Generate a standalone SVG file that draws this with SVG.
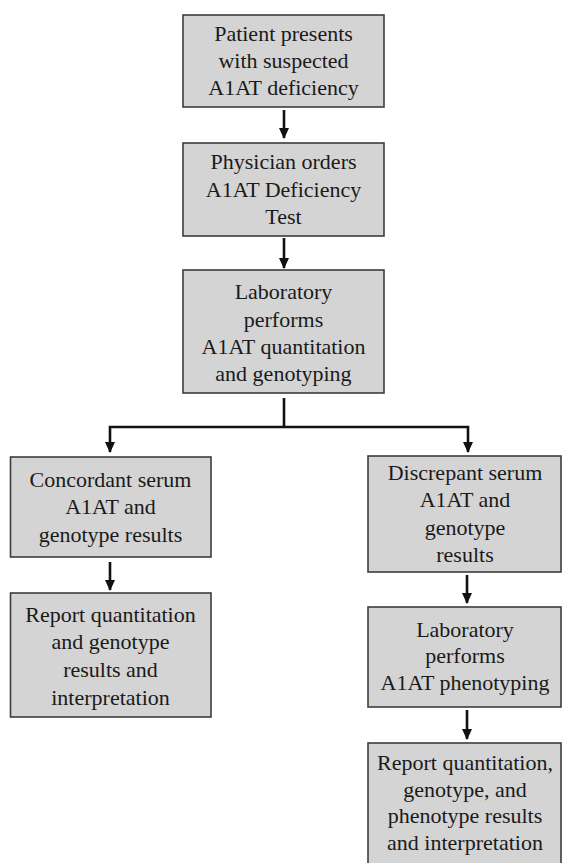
<svg xmlns="http://www.w3.org/2000/svg" width="562" height="863" viewBox="0 0 562 863">
<defs>
<marker id="ah" markerUnits="userSpaceOnUse" markerWidth="11" markerHeight="10" refX="10" refY="5" orient="auto-start-reverse" viewBox="0 0 11 10">
<path d="M0,0 L11,5 L0,10 Z" fill="#111"/>
</marker>
<style>
.box{fill:#d4d4d4;stroke:#3c3c3c;stroke-width:1.6}
.t{font-size:22px;fill:#1a1a1a;text-anchor:middle}
.c{stroke:#111;stroke-width:2.6;fill:none}
</style>
</defs>
<rect width="562" height="863" fill="#fff"/>
<g font-family="'Liberation Serif', 'Times New Roman', 'DejaVu Serif', serif">
<g id="n1"><rect class="box" x="183" y="15" width="201" height="92"/>
<text class="t" x="283.5" y="41">Patient presents</text>
<text class="t" x="283.5" y="68">with suspected</text>
<text class="t" x="283.5" y="95">A1AT deficiency</text></g>
<g id="n2"><rect class="box" x="183" y="143" width="201" height="93"/>
<text class="t" x="283.5" y="169">Physician orders</text>
<text class="t" x="283.5" y="197">A1AT Deficiency</text>
<text class="t" x="283.5" y="224">Test</text></g>
<g id="n3"><rect class="box" x="183" y="270" width="201" height="123"/>
<text class="t" x="283.5" y="299">Laboratory</text>
<text class="t" x="283.5" y="327">performs</text>
<text class="t" x="283.5" y="354">A1AT quantitation</text>
<text class="t" x="283.5" y="381">and genotyping</text></g>
<g id="n4"><rect class="box" x="10.5" y="457" width="200.5" height="100"/>
<text class="t" x="110.5" y="487">Concordant serum</text>
<text class="t" x="110.5" y="514">A1AT and</text>
<text class="t" x="110.5" y="542">genotype results</text></g>
<g id="n5"><rect class="box" x="10.5" y="593" width="200.5" height="124"/>
<text class="t" x="110.5" y="622">Report quantitation</text>
<text class="t" x="110.5" y="649">and genotype</text>
<text class="t" x="110.5" y="677">results and</text>
<text class="t" x="110.5" y="705">interpretation</text></g>
<g id="n6"><rect class="box" x="368" y="456" width="193" height="116"/>
<text class="t" x="465" y="480">Discrepant serum</text>
<text class="t" x="465" y="507">A1AT and</text>
<text class="t" x="465" y="535">genotype</text>
<text class="t" x="465" y="562">results</text></g>
<g id="n7"><rect class="box" x="368" y="607" width="193" height="100"/>
<text class="t" x="465" y="637">Laboratory</text>
<text class="t" x="465" y="663">performs</text>
<text class="t" x="465" y="690">A1AT phenotyping</text></g>
<g id="n8"><rect class="box" x="368" y="743" width="193" height="125"/>
<text class="t" x="465" y="770">Report quantitation,</text>
<text class="t" x="465" y="797">genotype, and</text>
<text class="t" x="465" y="823">phenotype results</text>
<text class="t" x="465" y="850">and interpretation</text></g>
</g>
<g id="connectors">
<line class="c" x1="284" y1="110" x2="284" y2="138" marker-end="url(#ah)"/>
<line class="c" x1="284" y1="238" x2="284" y2="268" marker-end="url(#ah)"/>
<polyline class="c" points="284,398 284,427"/>
<polyline class="c" points="110,452 110,427 468,427 468,452" marker-start="url(#ah)" marker-end="url(#ah)"/>
<line class="c" x1="110" y1="562" x2="110" y2="590" marker-end="url(#ah)"/>
<line class="c" x1="467" y1="575" x2="467" y2="603" marker-end="url(#ah)"/>
<line class="c" x1="467" y1="710" x2="467" y2="739" marker-end="url(#ah)"/>
</g>
</svg>
